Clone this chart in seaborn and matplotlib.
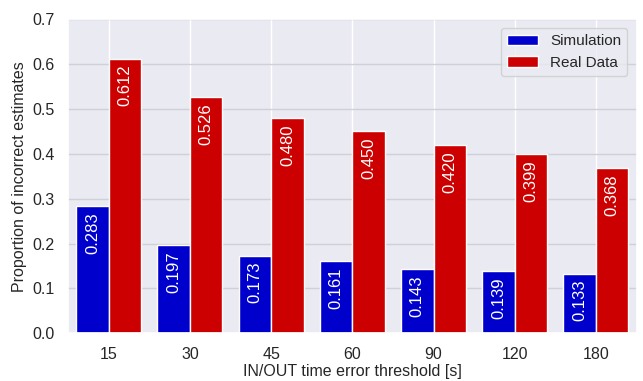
import matplotlib
matplotlib.use("Agg")
import matplotlib.pyplot as plt
import pandas as pd
import seaborn as sns

thresholds = ["15", "30", "45", "60", "90", "120", "180"]
simulation = [0.283, 0.197, 0.173, 0.161, 0.143, 0.139, 0.133]
real_data = [0.612, 0.526, 0.480, 0.450, 0.420, 0.399, 0.368]
series = ["Simulation", "Real Data"]
colors = ["#0000CC", "#CC0000"]

sns.set_theme(style="darkgrid")
plt.rcParams["font.family"] = ["Arial", "Liberation Sans", "DejaVu Sans"]

df = pd.DataFrame({
    "threshold": thresholds * 2,
    "value": simulation + real_data,
    "series": [series[0]] * len(thresholds) + [series[1]] * len(thresholds),
})

fig, ax = plt.subplots(figsize=(6.43, 3.81), dpi=100)
sns.barplot(data=df, x="threshold", y="value", hue="series",
            palette=colors, edgecolor="white", linewidth=1, saturation=1, ax=ax)

for container in ax.containers:
    for patch in container:
        h = patch.get_height()
        ax.text(patch.get_x() + patch.get_width() / 2, h - 0.014, f"{h:.3f}",
                rotation=90, ha="center", va="top", color="white", fontsize=12)

ax.set_ylim(0, 0.7)
ax.set_xlabel("IN/OUT time error threshold [s]", fontsize=11.5, labelpad=2)
ax.set_ylabel("Proportion of incorrect estimates", fontsize=11.5)
ax.tick_params(labelsize=11.5)
ax.legend(title=None, loc="upper right", fontsize=11, borderaxespad=0.6)
ax.yaxis.grid(True, color="#d0d0d8", linewidth=1)
ax.xaxis.grid(True, color="white", linewidth=1)

fig.subplots_adjust(left=0.106, right=0.99, top=0.95, bottom=0.125)
fig.savefig("out.png", dpi=100)
